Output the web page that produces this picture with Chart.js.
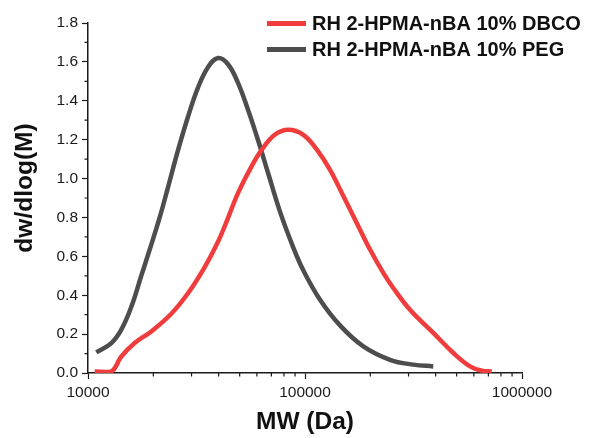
<!DOCTYPE html>
<html>
<head>
<meta charset="utf-8">
<script src="https://cdn.jsdelivr.net/npm/chart.js@4"></script>
<style>
  html, body { margin: 0; padding: 0; background: #fff; }
</style>
</head>
<body>
<canvas id="mwChart" width="592" height="438"></canvas>
<script>
// molecular weight (Da) and dw/dlog(M)
const dbcoMW = [10740, 12810, 14240, 16410, 19570, 24210, 28890, 34500, 39730, 43380, 49120, 56550, 62890, 72520, 83750, 98220, 113200, 130400, 150200, 173100, 199300, 229500, 255200, 304700, 390100, 482600, 576100, 652100, 725200];
const dbcoW  = [0.008, 0.008, 0.085, 0.154, 0.214, 0.305, 0.41,  0.545, 0.675, 0.775, 0.925, 1.06,  1.145, 1.225, 1.251, 1.225, 1.15,   1.045,  0.91,   0.772,  0.635,  0.515,  0.437,  0.325,  0.206,  0.103,  0.034,  0.012,  0.008];

const pegMW = [10920, 12810, 14240, 15830, 17600, 19570, 21400, 23370, 25980, 28890, 32130, 35730, 39730, 44180, 49120, 54620, 60740, 67530, 76690, 88340, 98220, 117300, 145000, 185700, 246500, 315600, 390100];
const pegW  = [0.106, 0.154, 0.223, 0.34,  0.50,  0.66,  0.80,  0.955, 1.145, 1.318, 1.468, 1.573, 1.62,  1.588, 1.492, 1.354, 1.198, 1.03,  0.83,  0.645, 0.528, 0.377,  0.245,  0.137,  0.068,  0.043,  0.034];

const seriesLabels = ['RH 2-HPMA-nBA 10% DBCO', 'RH 2-HPMA-nBA 10% PEG'];
const seriesColors = ['#f03c3c', '#4d4d4d'];
const yTicks = [0, 0.2, 0.4, 0.6, 0.8, 1.0, 1.2, 1.4, 1.6, 1.8];
const yTitle = 'dw/dlog(M)';

const FONT = 'Arial, "Liberation Sans", sans-serif';
const AXIS = '#1a1a1a';

function toPoints(xs, ys) {
  return xs.map((x, i) => ({ x: x, y: ys[i] }));
}

// minor ticks, y title and legend drawn over the chart
const extras = {
  id: 'extras',
  afterDraw(chart) {
    const ctx = chart.ctx;
    const xs = chart.scales.x, ys = chart.scales.y;
    ctx.save();
    ctx.strokeStyle = AXIS;
    ctx.lineWidth = 1.2;
    ctx.beginPath();
    for (let v = 0.1; v < 1.8; v += 0.2) {
      const py = ys.getPixelForValue(v);
      ctx.moveTo(xs.left - 3.5, py);
      ctx.lineTo(xs.left, py);
    }
    for (let dec = 10000; dec < 1000000; dec *= 10) {
      for (let m = 2; m <= 9; m++) {
        const px = xs.getPixelForValue(dec * m);
        ctx.moveTo(px, ys.bottom);
        ctx.lineTo(px, ys.bottom + 3.5);
      }
    }
    ctx.stroke();

    // y axis title, sits a little above the axis middle in the original
    ctx.save();
    ctx.translate(25, (ys.top + ys.bottom) / 2 - 10);
    ctx.rotate(-Math.PI / 2);
    ctx.font = 'bold 24.5px ' + FONT;
    ctx.textAlign = 'center';
    ctx.textBaseline = 'middle';
    ctx.fillStyle = '#111';
    ctx.fillText(yTitle, 0, 0);
    ctx.restore();

    // legend
    ctx.font = 'bold 20px ' + FONT;
    ctx.textAlign = 'left';
    ctx.textBaseline = 'middle';
    ctx.fillStyle = '#111';
    chart.data.datasets.forEach((ds, i) => {
      const y = 23.5 + i * 26;
      ctx.strokeStyle = ds.borderColor;
      ctx.lineWidth = 5;
      ctx.beginPath();
      ctx.moveTo(267, y);
      ctx.lineTo(306, y);
      ctx.stroke();
      ctx.fillText(ds.label, 312, y + 1);
    });
    ctx.restore();
  }
};

const chart = new Chart(document.getElementById('mwChart').getContext('2d'), {
  type: 'line',
  data: {
    datasets: [{
      label: seriesLabels[0],
      data: toPoints(dbcoMW, dbcoW),
      borderColor: seriesColors[0],
      borderWidth: 4.5,
      pointRadius: 0,
      fill: false,
      tension: 0.4
    }, {
      label: seriesLabels[1],
      data: toPoints(pegMW, pegW),
      borderColor: seriesColors[1],
      borderWidth: 4.5,
      pointRadius: 0,
      fill: false,
      tension: 0.4
    }]
  },
  options: {
    responsive: false,
    animation: false,
    layout: { padding: { top: 23, right: 70, bottom: 0, left: 0 } },
    plugins: {
      legend: { display: false },
      tooltip: { enabled: false }
    },
    scales: {
      x: {
        type: 'logarithmic',
        min: 10000,
        max: 1000000,
        border: { display: true, color: AXIS, width: 1.5 },
        grid: {
          drawOnChartArea: false,
          drawTicks: true,
          tickLength: 6,
          tickWidth: 1.2,
          tickColor: (c) => (c.tick && Number.isInteger(Math.log10(c.tick.value))) ? AXIS : 'rgba(0,0,0,0)'
        },
        ticks: {
          autoSkip: false,
          maxRotation: 0,
          padding: 4,
          color: AXIS,
          font: { family: FONT, size: 15.5 },
          callback: (v) => Number.isInteger(Math.log10(v)) ? String(v) : ''
        },
        title: {
          display: true,
          text: 'MW (Da)',
          color: '#111',
          font: { family: FONT, size: 24.5, weight: 'bold' },
          padding: { top: 0, bottom: 1 }
        },
        afterFit: (s) => { s.height = 65; }
      },
      y: {
        min: 0,
        max: 1.8,
        border: { display: true, color: AXIS, width: 1.5 },
        grid: {
          drawOnChartArea: false,
          drawTicks: true,
          tickLength: 6,
          tickWidth: 1.2,
          tickColor: AXIS
        },
        afterBuildTicks: (s) => { s.ticks = yTicks.map(v => ({ value: v })); },
        ticks: {
          padding: 4,
          color: AXIS,
          font: { family: FONT, size: 15.5 },
          callback: (v) => Number(v).toFixed(1)
        },
        title: { display: false },
        afterFit: (s) => { s.width = 88; }
      }
    }
  },
  plugins: [extras]
});
</script>
</body>
</html>
